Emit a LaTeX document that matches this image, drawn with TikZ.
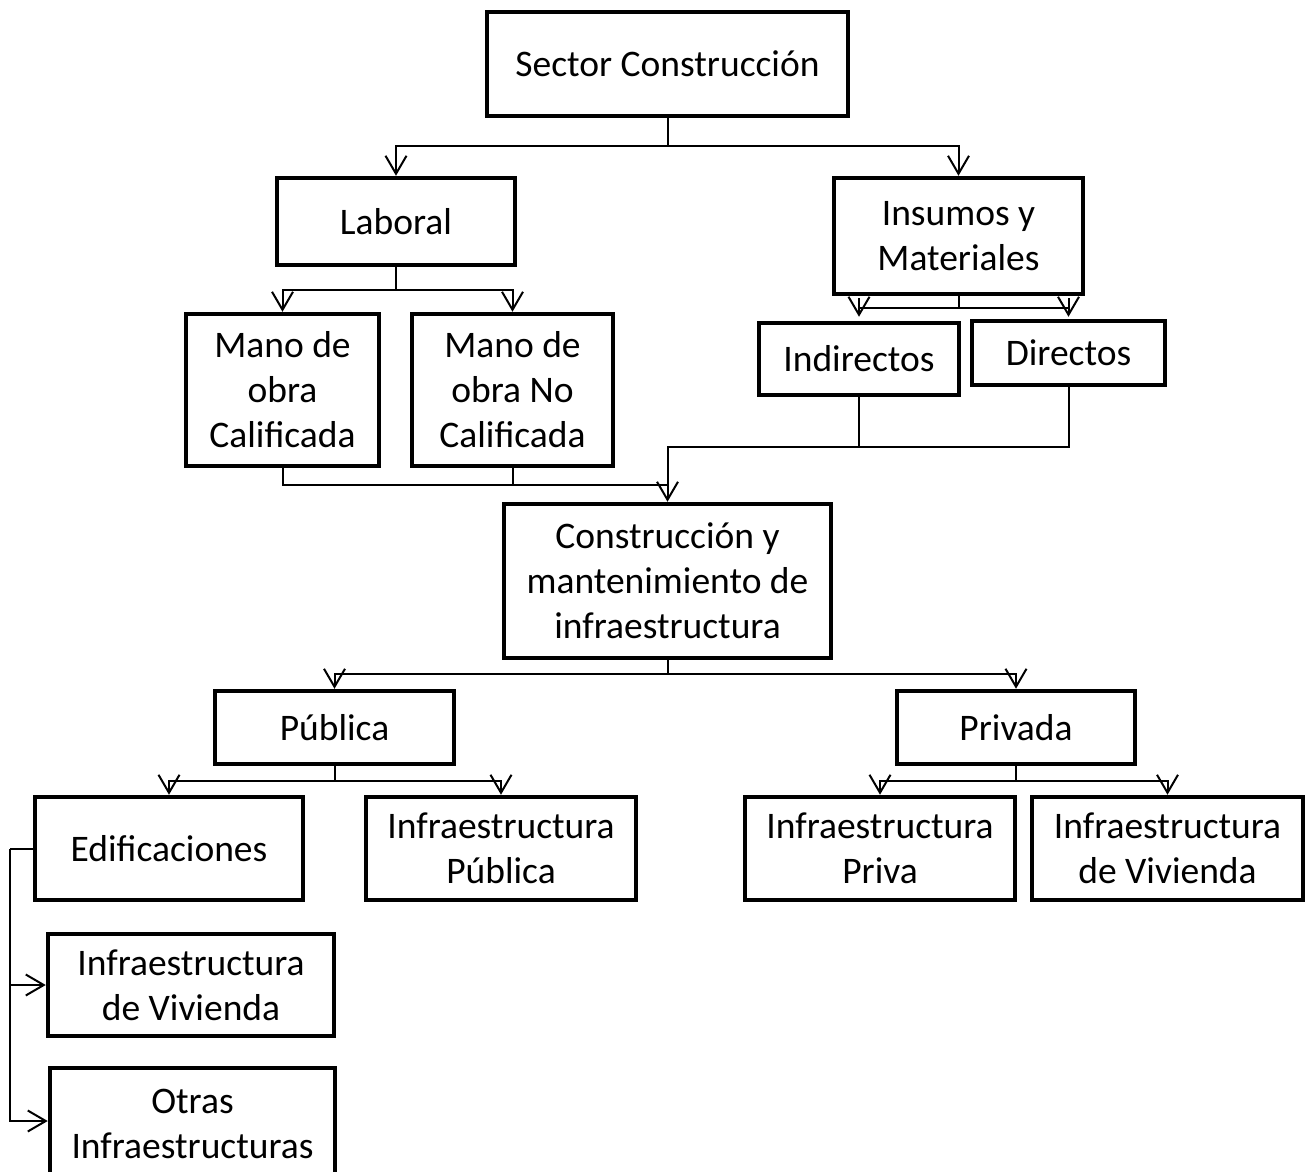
\documentclass[tikz,border=0pt]{standalone}
\usepackage{fontspec}
\setmainfont{Carlito}
\usetikzlibrary{arrows.meta}

\begin{document}
\begin{tikzpicture}[x=1pt, y=-1pt,
    box/.style={draw, line width=4.5pt, inner sep=0pt, align=center,
                font=\fontsize{37.5}{45}\selectfont},
    link/.style={line width=2pt},
    arr/.style={line width=2pt, -{Straight Barb[length=18pt, width=21pt, line width=2pt]}}]

  \useasboundingbox (0, 0) rectangle (1310, 1171);

  % top levels
  \node[box, minimum width=361pt, minimum height=104pt] (sector) at (667.5, 64) {Sector Construcción};
  \node[box, minimum width=238pt, minimum height=87pt] (laboral) at (396, 221.5) {Laboral};
  \node[box, minimum width=249pt, minimum height=116pt] (insumos) at (958.5, 236) {Insumos y\\Materiales};
  \node[box, minimum width=193pt, minimum height=152pt] (calif) at (282.5, 390) {Mano de\\obra\\Calificada};
  \node[box, minimum width=201pt, minimum height=152pt] (nocalif) at (512.5, 390) {Mano de\\obra No\\Calificada};
  \node[box, minimum width=200pt, minimum height=72pt] (indir) at (859, 359) {Indirectos};
  \node[box, minimum width=193pt, minimum height=64pt] (dir) at (1068.5, 353) {Directos};

  % middle
  \node[box, minimum width=327pt, minimum height=154pt] (constr) at (667.5, 581) {Construcción y\\mantenimiento de\\infraestructura};
  \node[box, minimum width=239pt, minimum height=73pt] (publica) at (334.5, 727.5) {Pública};
  \node[box, minimum width=238pt, minimum height=73pt] (privada) at (1016, 727.5) {Privada};

  % bottom levels
  \node[box, minimum width=268pt, minimum height=103pt] (edif) at (169, 848.5) {Edificaciones};
  \node[box, minimum width=270pt, minimum height=103pt] (infpub) at (501, 848.5) {Infraestructura\\Pública};
  \node[box, minimum width=270pt, minimum height=103pt] (infpriv) at (880, 848.5) {Infraestructura\\Priva};
  \node[box, minimum width=271pt, minimum height=103pt] (vivR) at (1167.5, 848.5) {Infraestructura\\de Vivienda};
  \node[box, minimum width=286pt, minimum height=102pt] (vivL) at (191, 985) {Infraestructura\\de Vivienda};
  \node[box, minimum width=285pt, minimum height=112pt] (otras) at (192.5, 1124) {Otras\\Infraestructuras};

  % connectors
  \coordinate (j1) at (667.5, 146);
  \draw[link] (sector.south) -- (j1);
  \draw[arr] (j1) -| (laboral.north);
  \draw[arr] (j1) -| (insumos.north);

  \coordinate (j2) at (396, 290);
  \draw[link] (laboral.south) -- (j2);
  \draw[arr] (j2) -| (calif.north);
  \draw[arr] (j2) -| (nocalif.north);

  \coordinate (j3) at (958.5, 308);
  \draw[link] (insumos.south) -- (j3);
  \draw[link] (indir.north |- j3) -- (dir.north |- j3);
  \draw[arr] (indir.north |- 0,298) -- ([yshift=4pt]indir.north);
  \draw[arr] (dir.north |- 0,298) -- ([yshift=2pt]dir.north);

  \coordinate (j4) at (859, 447);
  \draw[link] (dir.south) |- (j4);
  \draw[arr] (indir.south) -- (j4) -| (constr.north);

  \coordinate (j5) at (667.5, 485);
  \draw[link] (calif.south) |- (j5);
  \draw[link] (nocalif.south) -- (nocalif.south |- j5);

  \coordinate (j6) at (667.5, 674);
  \draw[link] (constr.south) -- (j6);
  \draw[arr] (j6) -| (publica.north);
  \draw[arr] (j6) -| (privada.north);

  \coordinate (j7) at (334.5, 781);
  \draw[link] (publica.south) -- (j7);
  \draw[arr] (j7) -| (edif.north);
  \draw[arr] (j7) -| (infpub.north);

  \coordinate (j8) at (1016, 781);
  \draw[link] (privada.south) -- (j8);
  \draw[arr] (j8) -| (infpriv.north);
  \draw[arr] (j8) -| (vivR.north);

  \coordinate (e1) at (10, 848.5);
  \draw[link] (edif.west) -- (e1);
  \draw[arr] (e1) |- (vivL.west);
  \draw[arr] (e1) |- ([yshift=3pt]otras.west);

\end{tikzpicture}
\end{document}
